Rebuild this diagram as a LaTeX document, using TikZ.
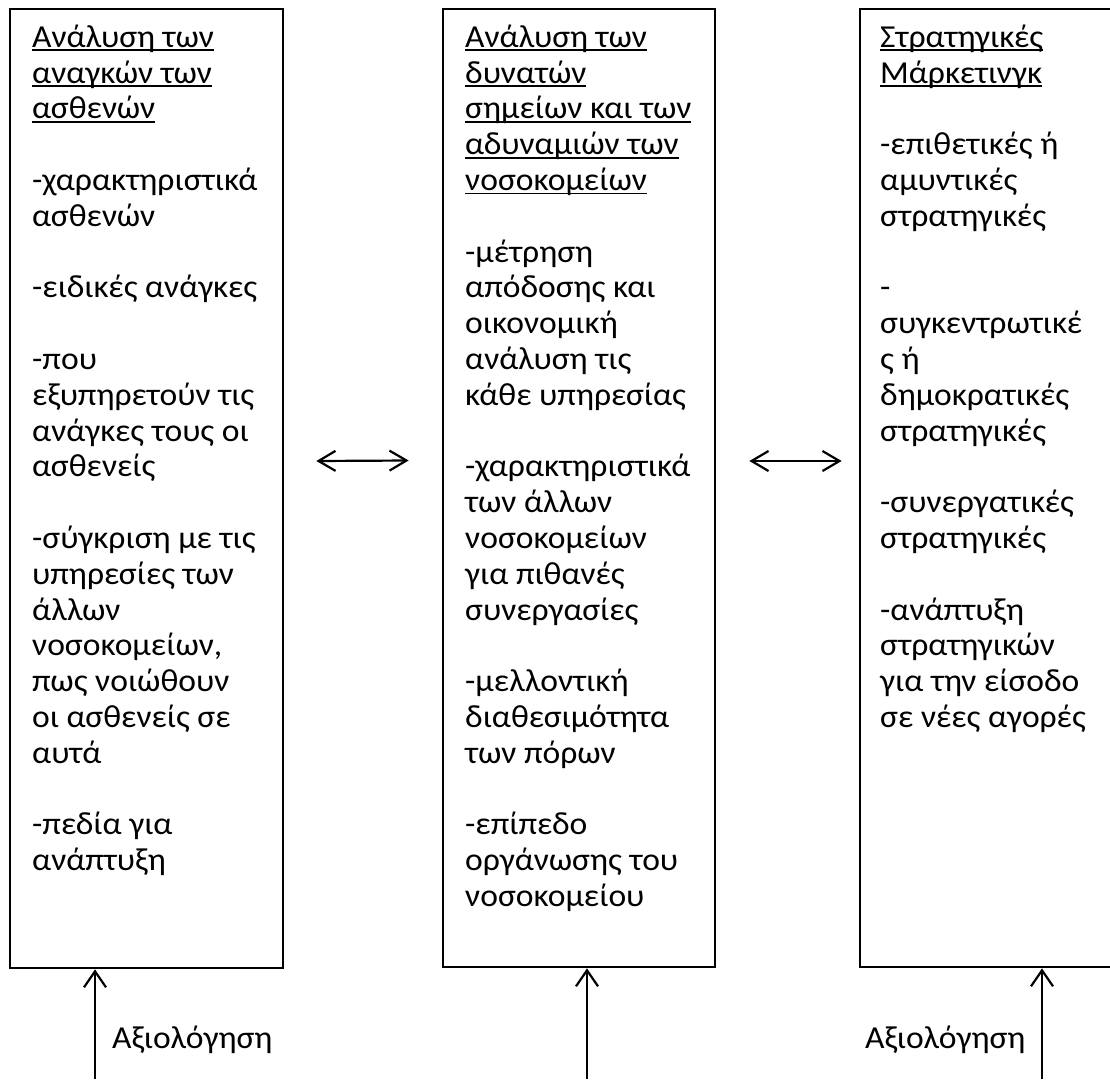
\documentclass[tikz,border=0pt]{standalone}
\usepackage{fontspec}
\setmainfont[FakeStretch=1.05]{Carlito}
\usetikzlibrary{arrows.meta}
\newcommand\hdline[1]{\setbox0\hbox{#1}\rlap{\rule[-4pt]{\wd0}{1.8pt}}\box0}
\begin{document}
\begin{tikzpicture}[x=1pt,y=-1pt,
  box/.style={draw, line width=2.7pt, inner sep=0pt, fill=none},
  txt/.style={anchor=north west, inner sep=0pt, align=left, font=\fontsize{32}{35.8}\selectfont},
  lab/.style={anchor=base west, inner sep=0pt, font=\fontsize{32}{35.8}\selectfont},
  arr/.style={-{Straight Barb[length=16pt,width=22pt,line width=2.2pt]}, line width=2.2pt},
  dbl/.style={{Straight Barb[length=17pt,width=20pt,line width=2.2pt]}-{Straight Barb[length=17pt,width=20pt,line width=2.2pt]}, line width=2.2pt}]
\useasboundingbox[fill=white] (0,0) rectangle (1110,1079);
% boxes
\node[box, minimum width=273pt, minimum height=959pt] (b1) at (146.5,488.5) {};
\node[box, minimum width=272pt, minimum height=958pt] (b2) at (579,488) {};
\node[box, minimum width=256pt, minimum height=958pt] (b3) at (988,488) {};
% texts
\node[txt] (t1) at (32,17) {\rule{0pt}{30pt}\hdline{Ανάλυση των}\\
\hdline{αναγκών των}\\
\hdline{ασθενών}\\[35.8pt]
-χαρακτηριστικά\\
ασθενών\\[35.8pt]
-ειδικές ανάγκες\\[35.8pt]
-που\\
εξυπηρετούν τις\\
ανάγκες τους οι\\
ασθενείς\\[35.8pt]
-σύγκριση με τις\\
υπηρεσίες των\\
άλλων\\
νοσοκομείων,\\
πως νοιώθουν\\
οι ασθενείς σε\\
αυτά\\[35.8pt]
-πεδία για\\
ανάπτυξη};
\node[txt] (t2) at (465,17) {\rule{0pt}{30pt}\hdline{Ανάλυση των}\\
\hdline{δυνατών}\\
\hdline{σημείων και των}\\
\hdline{αδυναμιών των}\\
\hdline{νοσοκομείων}\\[35.8pt]
-μέτρηση\\
απόδοσης και\\
οικονομική\\
ανάλυση τις\\
κάθε υπηρεσίας\\[35.8pt]
-χαρακτηριστικά\\
των άλλων\\
νοσοκομείων\\
για πιθανές\\
συνεργασίες\\[35.8pt]
-μελλοντική\\
διαθεσιμότητα\\
των πόρων\\[35.8pt]
-επίπεδο\\
οργάνωσης του\\
νοσοκομείου};
\node[txt] (t3) at (880,17) {\rule{0pt}{30pt}\hdline{Στρατηγικές}\\
\hdline{Μάρκετινγκ}\\[35.8pt]
-επιθετικές ή\\
αμυντικές\\
στρατηγικές\\[35.8pt]
-\\
συγκεντρωτικέ\\
ς ή\\
δημοκρατικές\\
στρατηγικές\\[35.8pt]
-συνεργατικές\\
στρατηγικές\\[35.8pt]
-ανάπτυξη\\
στρατηγικών\\
για την είσοδο\\
σε νέες αγορές};
% horizontal double arrows
\draw[dbl] ([shift={(32,-27.5)}]b1.east) -- ([shift={(-33,-27.5)}]b2.west);
\draw[dbl] ([shift={(33,-27)}]b2.east) -- ([shift={(-17,-27)}]b3.west);
% vertical arrows
\coordinate (e1) at (95,1079);
\coordinate (e2) at (587,1079);
\coordinate (e3) at (1042,1079);
\draw[arr] (e1) -- (e1 |- b1.south);
\draw[arr] (e2) -- (e2 |- b2.south);
\draw[arr] (e3) -- (e3 |- b3.south);
% labels
\node[lab] (l1) at (112,1048) {Αξιολόγηση};
\node[lab] (l3) at (865,1048) {Αξιολόγηση};
\end{tikzpicture}
\end{document}
